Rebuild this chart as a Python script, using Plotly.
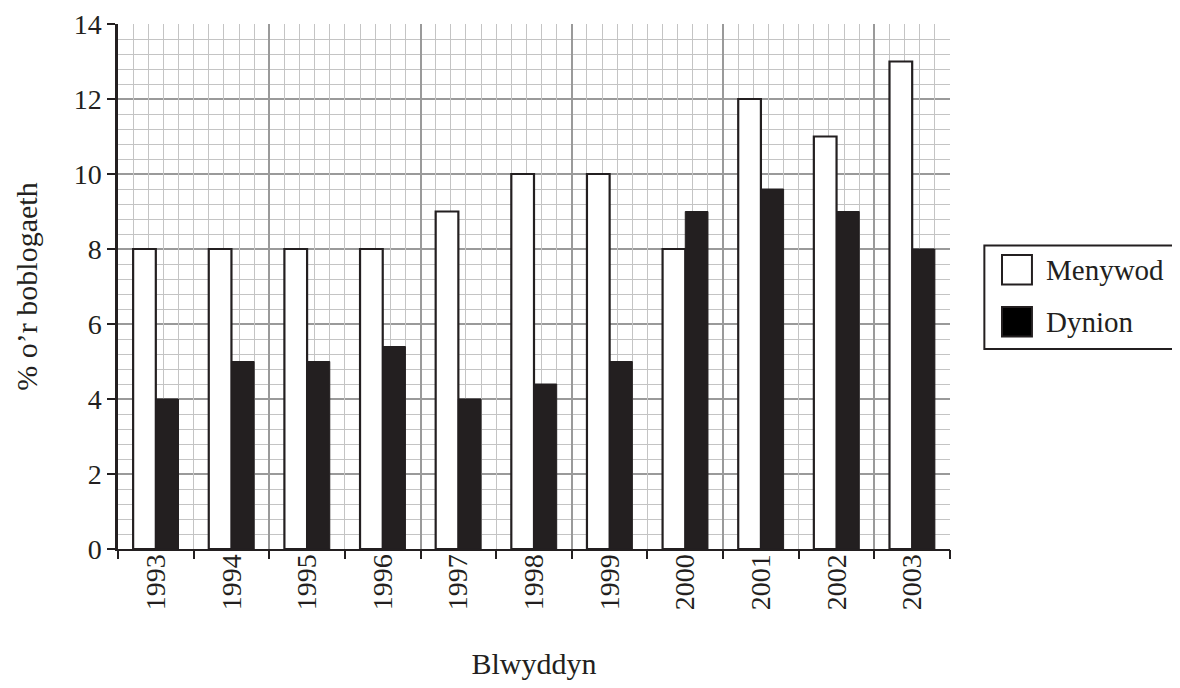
import plotly.graph_objects as go

years = ["1993", "1994", "1995", "1996", "1997", "1998", "1999", "2000", "2001", "2002", "2003"]
menywod = [8, 8, 8, 8, 9, 10, 10, 8, 12, 11, 13]
dynion = [4, 5, 5, 5.4, 4, 4.4, 5, 9, 9.6, 9, 8]
series_names = ["Menywod", "Dynion"]
y_ticks = [0, 2, 4, 6, 8, 10, 12, 14]

FONT = "Liberation Serif"
BLACK = "#231f20"
pos = list(range(len(years)))
bounds = [i - 0.5 for i in range(len(years) + 1)]
xr = [-0.5, len(years) - 0.5]

fig = go.Figure()
fig.add_trace(go.Bar(x=pos, y=menywod, name=series_names[0],
                     marker=dict(color="white", line=dict(color=BLACK, width=2.2)),
                     showlegend=False))
fig.add_trace(go.Bar(x=pos, y=dynion, name=series_names[1],
                     marker=dict(color=BLACK, line=dict(color=BLACK, width=1)),
                     showlegend=False))
# empty carriers so the helper axes (ticks / grids) get drawn
for ax in ["x2", "x3", "x4"]:
    fig.add_trace(go.Scatter(x=[], y=[], xaxis=ax, yaxis="y",
                             showlegend=False, hoverinfo="skip"))

fig.update_layout(
    width=1180, height=688,
    margin=dict(l=110, r=238, t=16, b=147),
    paper_bgcolor="white", plot_bgcolor="white",
    font=dict(family=FONT, size=28, color="#231f20"),
    barmode="group", bargap=0.4, bargroupgap=0,
    xaxis=dict(
        range=xr, tickmode="array", tickvals=pos, ticktext=years,
        tickangle=-90, ticks="", showgrid=False, zeroline=False,
        showline=True, linecolor=BLACK, linewidth=2, automargin=False,
        tickfont=dict(size=28), ticklabelstandoff=-8,
        title=dict(text="Blwyddyn", font=dict(size=30), standoff=44),
    ),
    xaxis2=dict(
        overlaying="x", anchor="y", side="bottom", range=xr,
        tickmode="array", tickvals=bounds, ticks="outside", ticklen=9,
        tickwidth=2, tickcolor=BLACK, showticklabels=False,
        showgrid=False, zeroline=False, showline=False, automargin=False,
    ),
    xaxis3=dict(
        overlaying="x", anchor="y", side="bottom", range=xr,
        tickmode="linear", tick0=-0.5, dtick=0.2, showticklabels=False,
        ticks="", showgrid=True, gridcolor="#c4c4c4", gridwidth=1.2,
        zeroline=False, showline=False, automargin=False,
    ),
    xaxis4=dict(
        overlaying="x", anchor="y", side="bottom", range=xr,
        tickmode="linear", tick0=-0.5, dtick=2, showticklabels=False,
        ticks="", showgrid=True, gridcolor="#9a9a9a", gridwidth=2,
        zeroline=False, showline=False, automargin=False,
    ),
    yaxis=dict(
        range=[0, 14], tickmode="array", tickvals=y_ticks,
        ticks="outside", ticklen=8, tickwidth=2, tickcolor=BLACK,
        showline=True, linecolor=BLACK, linewidth=2.5,
        showgrid=True, gridcolor="#9a9a9a", gridwidth=2,
        zeroline=False, tickfont=dict(size=28), automargin=False,
        ticklabeloverflow="allow",
        minor=dict(tickmode="linear", tick0=0, dtick=0.4, showgrid=True,
                   gridcolor="#c4c4c4", gridwidth=1.2, ticks=""),
        title=dict(text="% o’r boblogaeth", font=dict(size=30), standoff=28),
    ),
)

# legend drawn as a boxed key to the right of the plot
fig.add_shape(type="rect", xref="paper", yref="paper",
              x0=1.0413, x1=1.272, y0=0.381, y1=0.578,
              line=dict(color=BLACK, width=2), fillcolor="white")
fig.add_shape(type="rect", xref="paper", yref="paper",
              x0=1.0625, x1=1.0985, y0=0.504, y1=0.560,
              line=dict(color=BLACK, width=2), fillcolor="white")
fig.add_shape(type="rect", xref="paper", yref="paper",
              x0=1.0625, x1=1.0985, y0=0.405, y1=0.461,
              line=dict(color=BLACK, width=2), fillcolor="black")
fig.add_annotation(text=series_names[0], xref="paper", yref="paper",
                   x=1.113, y=0.532, xanchor="left", yanchor="middle",
                   showarrow=False, font=dict(size=29))
fig.add_annotation(text=series_names[1], xref="paper", yref="paper",
                   x=1.113, y=0.433, xanchor="left", yanchor="middle",
                   showarrow=False, font=dict(size=29))

fig.write_html("out.html")
